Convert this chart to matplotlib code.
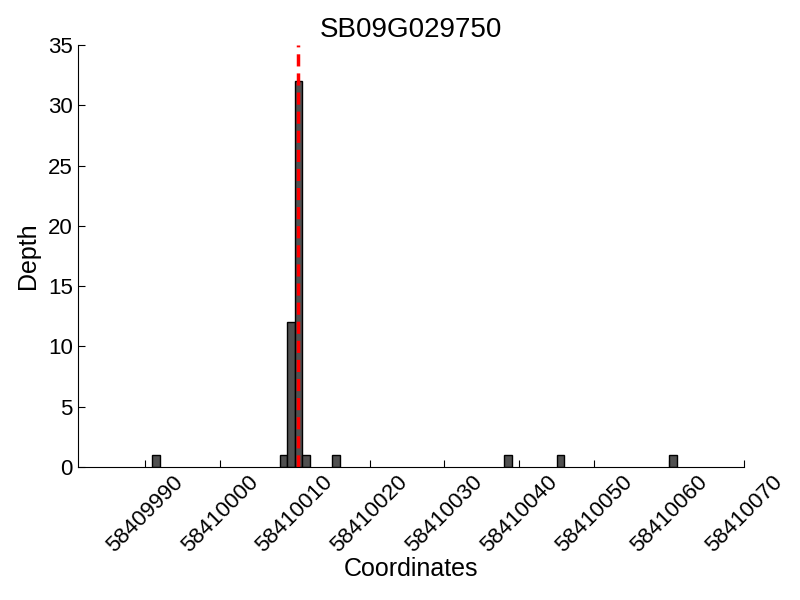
import numpy as np
import matplotlib
matplotlib.use("Agg")
import matplotlib.pyplot as plt

plt.rcParams['font.family'] = ['Liberation Sans', 'DejaVu Sans']

#   data
positions = [58409991, 58410008, 58410009, 58410010, 58410011, 58410015,
             58410038, 58410045, 58410060]
depths = [1, 1, 12, 32, 1, 1, 1, 1, 1]
site = 58410010.5
gene = "SB09G029750"

fig = plt.figure(figsize=(8, 6), dpi=100)
ax = fig.add_axes([0.097, 0.222, 0.833, 0.703])

ax.bar(positions, depths, width=1, align='edge', color='#505050',
       edgecolor='black', linewidth=1)
ax.axvline(site, color='red', linestyle='--', linewidth=2.5, dashes=(3.5, 2))

ax.set_xlim(min(positions) - 10, max(positions) + 10)
ax.set_ylim(0, 35)
ax.set_xticks(np.arange(58409990, 58410071, 10))
ax.set_yticks(np.arange(0, 36, 5))
ax.ticklabel_format(useOffset=False, style='plain', axis='x')
plt.setp(ax.get_xticklabels(), rotation=45, ha='center')
ax.tick_params(direction='in', labelsize=16, length=5, top=False, right=False)

ax.spines['top'].set_visible(False)
ax.spines['right'].set_visible(False)

ax.set_xlabel('Coordinates', fontsize=18, labelpad=0)
ax.set_ylabel('Depth', fontsize=18, labelpad=6)
ax.set_title(gene, fontsize=20)

fig.savefig("out.png", dpi=100)
